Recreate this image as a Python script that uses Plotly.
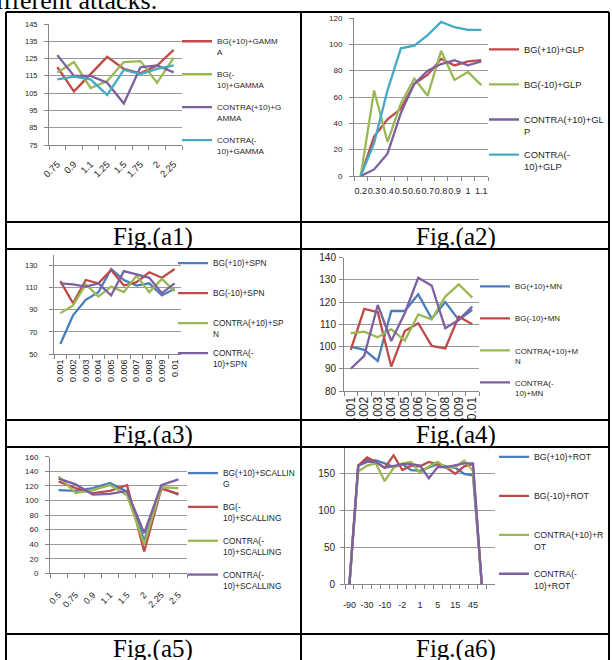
import plotly.graph_objects as go

W, H = 612, 660

# ---------------- data ----------------
gamma_x = ["0.75", "0.9", "1.1", "1.25", "1.5", "1.75", "2", "2.25"]
gamma_bg_p10 = [120, 106, 116, 126, 119, 116.5, 121, 130]
gamma_bg_m10 = [117, 123, 108, 112, 123, 123.5, 111, 125.5]
gamma_contra_p10 = [127, 115, 115, 111, 99, 120, 121, 117]
gamma_contra_m10 = [113, 114.5, 113, 104, 118.5, 116, 119, 121]

glp_x = ["0.2", "0.3", "0.4", "0.5", "0.6", "0.7", "0.8", "0.9", "1", "1.1"]
glp_bg_p10 = [0, 30, 43, 51, 70, 77, 89, 84, 87, 88]
glp_bg_m10 = [0, 65, 26, 55, 74, 61, 95, 73, 79, 69]
glp_contra_p10 = [0, 5, 17, 48, 70, 80, 85, 88, 84, 87]
glp_contra_m10 = [0, 25, 65, 97, 99, 107, 117, 113, 111, 111]

spn_x = ["0.001", "0.002", "0.003", "0.004", "0.005", "0.006", "0.007", "0.008", "0.009", "0.01"]
spn_bg_p10 = [59, 85, 99, 106, 127, 117, 112, 114, 103, 109]
spn_bg_m10 = [116, 96, 117, 114, 126, 112, 115, 124, 119, 127]
spn_contra_p10 = [87, 94, 113, 102, 111, 106, 121, 106, 118, 107]
spn_contra_m10 = [114, 113, 111, 114, 103, 125, 122, 119, 105, 114]

mn_x = ["0.001", "0.002", "0.003", "0.004", "0.005", "0.006", "0.007", "0.008", "0.009", "0.01"]
mn_bg_p10 = [100, 98.5, 93.5, 116, 116, 123.5, 112.5, 120, 112, 116.5]
mn_bg_m10 = [98.5, 117, 115.5, 91, 107, 110.5, 100.3, 99.2, 113.5, 110]
mn_contra_p10 = [106, 106.7, 104.2, 107.8, 102.7, 114.5, 112.3, 122.5, 128, 122]
mn_contra_m10 = [90, 95.8, 118.7, 102.5, 115, 131, 127.4, 108.2, 112, 118]

scal_x = ["0.5", "0.75", "0.9", "1.1", "1.5", "2", "2.25", "2.5"]
scal_bg_p10 = [114, 113, 117, 124, 112, 45, 117, 108]
scal_bg_m10 = [126, 117, 110, 113, 121, 30, 116, 109]
scal_contra_a = [133, 110, 114, 121, 107, 40, 118, 117]
scal_contra_b = [130, 122, 108, 109, 113, 55, 121, 129]

rot_x = ["-90", "-45", "-30", "-15", "-10", "-5", "-2", "-1", "1", "2", "5", "10", "15", "30", "45", "90"]
rot_bg_p10 = [0, 160, 168, 167, 163, 158, 162, 154, 153, 157, 162, 159, 157, 149, 147, 0]
rot_bg_m10 = [0, 160, 171, 165, 157, 174, 154, 160, 159, 165, 162, 157, 149, 159, 162, 0]
rot_contra_p10 = [0, 152, 160, 163, 139, 157, 163, 165, 150, 159, 165, 157, 158, 167, 153, 0]
rot_contra_m10 = [0, 160, 165, 165, 157, 160, 162, 162, 160, 143, 158, 158, 160, 163, 163, 0]

BLUE, RED, GREEN, PURPLE, CYAN = "#4A7EBB", "#BE4B48", "#98B954", "#7D60A0", "#46AAC5"
SANS = "Liberation Sans, Arial, sans-serif"
TXT = "#262626"
GRID = "#9a9a9a"
AXC = "#868686"


def px_x(v):
    return v / W


def px_y(v):
    return 1 - v / H


panels = [
    dict(x=gamma_x, ys=[gamma_bg_p10, gamma_bg_m10, gamma_contra_p10, gamma_contra_m10],
         names=["BG(+10)+GAMM<br>A", "BG(-<br>10)+GAMMA", "CONTRA(+10)+G<br>AMMA", "CONTRA(-<br>10)+GAMMA"],
         colors=[RED, GREEN, PURPLE, CYAN], box=(49, 182, 24, 145), yr=[75, 145], t0=75, dt=10,
         ang=-45, xf=9.5, xs_off=9, yf=7.5, ys_off=5, lf=8.1, leg=(177, 29.5), gap=8.9),
    dict(x=glp_x, ys=[glp_bg_p10, glp_bg_m10, glp_contra_p10, glp_contra_m10],
         names=["BG(+10)+GLP<br>\u00a0", "BG(-10)+GLP<br>\u00a0", "CONTRA(+10)+GL<br>P", "CONTRA(-<br>10)+GLP"],
         colors=[RED, GREEN, PURPLE, CYAN], box=(354, 488, 18, 176), yr=[0, 120], t0=0, dt=20,
         ang=0, xf=9, xs_off=6, yf=8, ys_off=5, lf=9.4, leg=(484, 36.8), gap=7.6),
    dict(x=spn_x, ys=[spn_bg_p10, spn_bg_m10, spn_contra_p10, spn_contra_m10],
         names=["BG(+10)+SPN<br>\u00a0", "BG(-10)+SPN<br>\u00a0", "CONTRA(+10)+SP<br>N", "CONTRA(-<br>10)+SPN"],
         colors=[BLUE, RED, GREEN, PURPLE], box=(54, 181, 254.6, 354), yr=[50, 140], t0=50, dt=20,
         ang=-90, xf=9, xs_off=1, yf=7.5, ys_off=10, lf=8.3, leg=(173, 251.2), gap=5.4),
    dict(x=mn_x, ys=[mn_bg_p10, mn_bg_m10, mn_contra_p10, mn_contra_m10],
         names=["BG(+10)+MN<br>\u00a0", "BG(-10)+MN<br>\u00a0", "CONTRA(+10)+M<br>N", "CONTRA(-<br>10)+MN"],
         colors=[BLUE, RED, GREEN, PURPLE], box=(344, 479, 257.7, 391), yr=[80, 140], t0=80, dt=10,
         ang=-90, xf=12, xs_off=0, yf=10, ys_off=1, lf=7.9, leg=(475, 274.7), gap=8.5),
    dict(x=scal_x, ys=[scal_bg_p10, scal_bg_m10, scal_contra_a, scal_contra_b],
         names=["BG(+10)+SCALLIN<br>G", "BG(-<br>10)+SCALLING", "CONTRA(-<br>10)+SCALLING", "CONTRA(-<br>10)+SCALLING"],
         colors=[BLUE, RED, GREEN, PURPLE], box=(50, 187, 456.7, 573.3), yr=[0, 160], t0=0, dt=20,
         ang=-45, xf=9, xs_off=12, yf=8, ys_off=5, lf=8.4, leg=(183, 461.1), gap=9),
    dict(x=rot_x, ys=[rot_bg_p10, rot_bg_m10, rot_contra_p10, rot_contra_m10],
         names=["BG(+10)+ROT<br>\u00a0", "BG(-10)+ROT<br>\u00a0", "CONTRA(+10)+R<br>OT", "CONTRA(-<br>10)+ROT"],
         colors=[BLUE, RED, GREEN, PURPLE], box=(345, 495, 436, 584.3), yr=[0, 200], t0=0, dt=50,
         ang=0, xf=9, xs_off=12, yf=10, ys_off=3, lf=8.8, leg=(494, 444.6), gap=13.1, skip=True, extra=1),
]

fig = go.Figure()
layout = {}
for i, p in enumerate(panels):
    n = i + 1
    xa = "x" if n == 1 else f"x{n}"
    ya = "y" if n == 1 else f"y{n}"
    lg = "legend" if n == 1 else f"legend{n}"
    for s, (yv, name, col) in enumerate(zip(p["ys"], p["names"], p["colors"])):
        fig.add_trace(go.Scatter(x=p["x"], y=yv, mode="lines", name=name,
                                 line=dict(color=col, width=2.3),
                                 xaxis=xa, yaxis=ya, legend=lg, legendgroup=f"g{n}_{s}"))
    x0, x1, yt, yb = p["box"]
    ncat = len(p["x"]) + p.get("extra", 0)
    ticktext = [c if (not p.get("skip") or k % 2 == 0) else "" for k, c in enumerate(p["x"])]
    layout["xaxis" if n == 1 else f"xaxis{n}"] = dict(
        domain=[px_x(x0), px_x(x1)], anchor=ya, type="category",
        categoryorder="array", categoryarray=p["x"], range=[-0.5, ncat - 0.5],
        tickmode="array", tickvals=p["x"], ticktext=ticktext, tickson="boundaries",
        ticks="outside", ticklen=4, tickcolor=AXC, tickwidth=1,
        showline=True, linecolor=AXC, linewidth=1, showgrid=False, zeroline=False,
        tickangle=p["ang"], tickfont=dict(family=SANS, size=p["xf"], color=TXT),
        ticklabelstandoff=p["xs_off"], fixedrange=True)
    layout["yaxis" if n == 1 else f"yaxis{n}"] = dict(
        domain=[px_y(yb), px_y(yt)], anchor=xa, range=p["yr"], tick0=p["t0"], dtick=p["dt"],
        ticks="outside", ticklen=4, tickcolor=AXC, tickwidth=1,
        showline=True, linecolor=AXC, linewidth=1, showgrid=True, gridcolor=GRID, gridwidth=1.3,
        zeroline=False, tickfont=dict(family=SANS, size=p["yf"], color=TXT),
        ticklabelstandoff=p["ys_off"], fixedrange=True)
    lx, ly = p["leg"]
    layout[lg] = dict(x=px_x(lx), y=px_y(ly), xanchor="left", yanchor="top",
                      font=dict(family=SANS, size=p["lf"], color=TXT),
                      bgcolor="rgba(0,0,0,0)", borderwidth=0, tracegroupgap=p["gap"], valign="top",
                      itemclick=False, itemdoubleclick=False)

# table: white caption-row mask (clips overflowing chart parts), then borders
shapes = [dict(type="rect", xref="paper", yref="paper", x0=px_x(302), x1=px_x(608),
               y0=px_y(447), y1=px_y(420), fillcolor="white", line=dict(width=0), layer="above")]
for yv in [12, 222, 249, 420, 447, 634]:
    shapes.append(dict(type="line", xref="paper", yref="paper", x0=px_x(6), x1=px_x(609),
                       y0=px_y(yv), y1=px_y(yv), line=dict(color="black", width=2), layer="above"))
for xv in [6, 301, 609]:
    shapes.append(dict(type="line", xref="paper", yref="paper", x0=px_x(xv), x1=px_x(xv),
                       y0=px_y(12), y1=px_y(662), line=dict(color="black", width=2), layer="above"))

SERIF = "Liberation Serif, Times New Roman, serif"
annotations = [dict(text="different attacks.", xref="paper", yref="paper", x=px_x(-19), y=px_y(17),
                    xanchor="left", yanchor="bottom", showarrow=False,
                    font=dict(family=SERIF, size=26, color="black"))]
for cap, cx, top in [("Fig.(a1)", 153, 222), ("Fig.(a2)", 456, 222), ("Fig.(a3)", 153, 420),
                     ("Fig.(a4)", 456, 420), ("Fig.(a5)", 153, 634), ("Fig.(a6)", 456, 634)]:
    annotations.append(dict(text=cap, xref="paper", yref="paper", x=px_x(cx), y=px_y(top + 31),
                            xanchor="center", yanchor="bottom", showarrow=False,
                            font=dict(family=SERIF, size=25, color="black")))

fig.update_layout(**layout)
fig.update_layout(width=W, height=H, autosize=False,
                  margin=dict(l=0, r=0, t=0, b=0, pad=0, autoexpand=False),
                  paper_bgcolor="white", plot_bgcolor="white", showlegend=True,
                  shapes=shapes, annotations=annotations,
                  font=dict(family=SANS, color=TXT))

fig.write_html("out.html", config={"displayModeBar": False, "staticPlot": False},
               post_script="document.body.style.margin='0px';")
